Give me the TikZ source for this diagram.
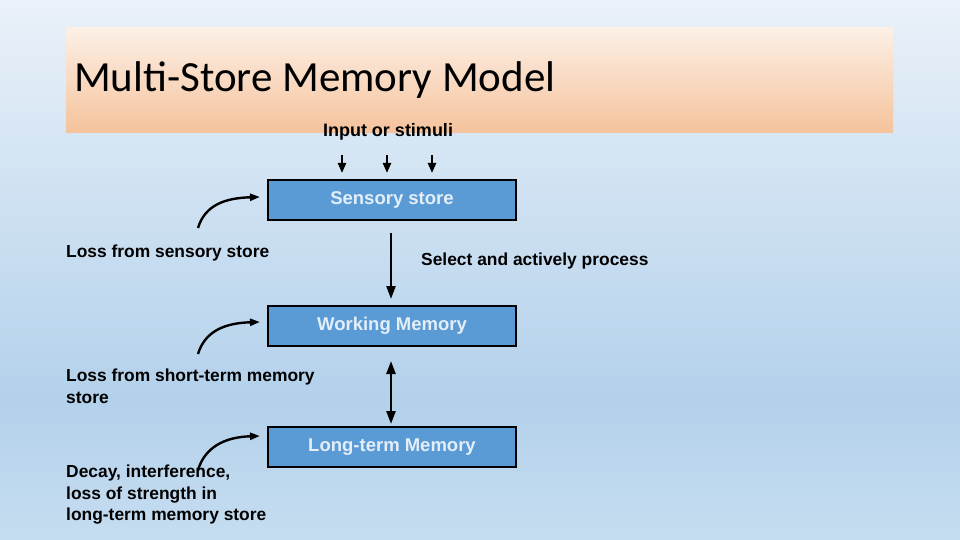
\documentclass[tikz,border=0pt]{standalone}
\usepackage{fontspec}
\setmainfont{Liberation Sans}
\newfontfamily\titlefont{Carlito}
\usetikzlibrary{arrows.meta}
\definecolor{boxblue}{HTML}{5B9BD5}
\definecolor{boxtext}{HTML}{E4EEF8}
\definecolor{bgtop}{HTML}{EAF1F9}
\definecolor{bgmid}{HTML}{B3D1EB}
\definecolor{bgbot}{HTML}{C6DDF0}
\definecolor{ttop}{HTML}{FCF0E6}
\definecolor{tbot}{HTML}{F5C29C}
\tikzset{
 store/.style={draw=black,line width=1.3pt,fill=boxblue,minimum width=248pt,minimum height=40pt,inner sep=0pt,text=boxtext,font=\bfseries\fontsize{18.5}{20}\selectfont},
 lbl/.style={anchor=west,align=left,inner sep=0pt,font=\bfseries\fontsize{17.4}{21.5}\selectfont},
 arr/.style={line width=2.4pt,-{Triangle[length=13pt,width=9pt]}},
 curv/.style={line width=2.4pt,-{Triangle[length=10pt,width=7pt]}}
}
\begin{document}
\begin{tikzpicture}[x=1pt,y=-1pt]
\useasboundingbox (0,0) rectangle (960,540);
\shade[top color=bgtop, bottom color=bgmid] (0,0) rectangle (960,400);
\shade[top color=bgmid, bottom color=bgbot] (0,400) rectangle (960,540);
\shade[top color=ttop, bottom color=tbot] (66,28) rectangle (893,133);
\node[anchor=west,inner sep=0pt,font=\titlefont\fontsize{43}{48}\selectfont] (title) at (74,80) {Multi-Store Memory Model};
\node[inner sep=0pt,font=\bfseries\fontsize{18}{20}\selectfont] (input) at (388,132) {Input or stimuli};
\node[store] (ss) at (392,200) {Sensory store};
\node[store] (wm) at (392,326) {Working Memory};
\node[store,line width=2.8pt] (ltm) at (392,447) {Long-term Memory};
\coordinate (i1) at (342,155); \coordinate (i2) at (387,155); \coordinate (i3) at (432,155);
\foreach \c in {i1,i2,i3} \draw[line width=2.2pt,-{Triangle[length=10pt,width=8pt]}] (\c) -- ++(0,18);
\coordinate (a1) at (391,233); \coordinate (a2) at (391,299);
\coordinate (b1) at (391,361); \coordinate (b2) at (391,424);
\draw[arr] (a1) -- (a2);
\draw[arr,{Triangle[length=13pt,width=9pt]}-{Triangle[length=13pt,width=9pt]}] (b1) -- (b2);
\node[lbl] (l1) at (66,253) {Loss from sensory store};
\node[lbl] (sel) at (421,261) {Select and actively process};
\node[lbl,anchor=north west] (l2) at (66,369) {Loss from short-term memory\\store};
\node[lbl,anchor=north west] (l3) at (66,465) {Decay, interference,\\loss of strength in\\long-term memory store};
\coordinate (c1) at (198,228); \coordinate (d1) at (260,197);
\coordinate (c2) at (198,354); \coordinate (d2) at (260,322);
\coordinate (c3) at (198,470); \coordinate (d3) at (260,436);
\draw[curv] (c1) .. controls (205,205) and (225,198) .. (d1);
\draw[curv] (c2) .. controls (205,331) and (225,323) .. (d2);
\draw[curv] (c3) .. controls (205,447) and (225,437) .. (d3);
\end{tikzpicture}
\end{document}
